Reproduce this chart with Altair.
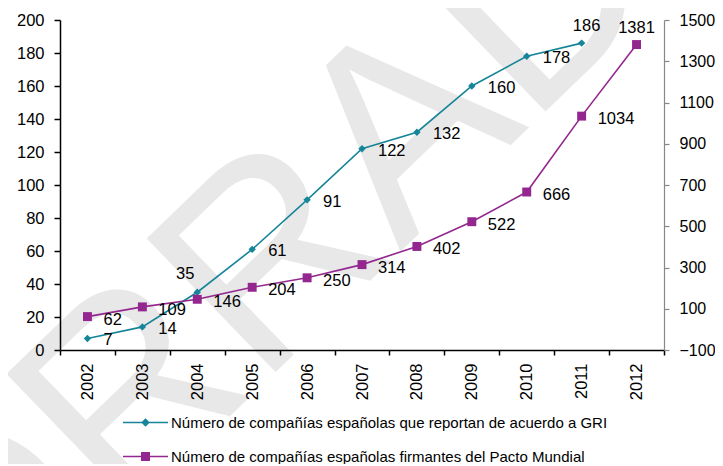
import altair as alt
import pandas as pd

years = ["2002", "2003", "2004", "2005", "2006", "2007", "2008", "2009", "2010", "2011", "2012"]
gri_values = [7, 14, 35, 61, 91, 122, 132, 160, 178, 186]
pacto_values = [62, 109, 146, 204, 250, 314, 402, 522, 666, 1034, 1381]
series = [
    "Número de compañías españolas que reportan de acuerdo a GRI",
    "Número de compañías españolas firmantes del Pacto Mundial",
]
left_ticks = list(range(0, 201, 20))
right_ticks = list(range(-100, 1501, 200))
watermark = ["BORRADOR"]

TEAL = "#168599"
PURPLE = "#93278f"
FONT = "Liberation Sans"

df_gri = pd.DataFrame({"year": years[:len(gri_values)], "value": gri_values, "serie": series[0]})
df_pacto = pd.DataFrame({"year": years, "value": pacto_values, "serie": series[1]})
df_all = pd.concat([df_gri, df_pacto], ignore_index=True)

x_enc = alt.X(
    "year:O",
    sort=years,
    scale=alt.Scale(type="band", paddingInner=0, paddingOuter=0),
    axis=alt.Axis(
        title=None, labelAngle=270, tickBand="extent", tickSize=5, labelPadding=8,
        labelFontSize=16.5, labelFont=FONT, labelColor="black", zindex=2,
        domainColor="black", tickColor="black", domainWidth=1.5, tickWidth=1.5,
    ),
)

y_left = alt.Y(
    "value:Q",
    scale=alt.Scale(domain=[0, 200], nice=False, zero=False),
    axis=alt.Axis(
        title=None, values=left_ticks, grid=False, orient="left", tickSize=6, labelPadding=10,
        labelFontSize=16.5, labelFont=FONT, labelColor="black", zindex=2, format="d",
        domainColor="black", tickColor="black", domainWidth=1.5, tickWidth=1.5,
    ),
)

y_right = alt.Y(
    "value:Q",
    scale=alt.Scale(domain=[-100, 1500], nice=False, zero=False),
    axis=alt.Axis(
        title=None, values=right_ticks, grid=False, orient="right", tickSize=5, labelPadding=10,
        labelFontSize=16, labelFont=FONT, labelColor="black", zindex=2, format="d",
        domainColor="#888888", tickColor="#888888", domainWidth=1.2, tickWidth=1.2,
    ),
)

label_style = dict(fontSize=16.5, font=FONT, color="black")

# GRI series
gri_base = alt.Chart(df_gri).encode(x=x_enc, y=y_left)
gri_line = gri_base.mark_line(color=TEAL, strokeWidth=1.6)
gri_pts = gri_base.mark_point(shape="diamond", filled=True, color=TEAL, size=55, opacity=1)
gri_lbl = gri_base.transform_filter(
    "datum.year != '2004' && datum.year != '2011'"
).mark_text(align="left", dx=16, dy=2, **label_style).encode(text="value:Q")
gri_lbl_35 = gri_base.transform_filter("datum.year == '2004'").mark_text(
    align="center", dx=-12, dy=-18, **label_style).encode(text="value:Q")
gri_lbl_186 = gri_base.transform_filter("datum.year == '2011'").mark_text(
    align="center", dx=5, dy=-17, **label_style).encode(text="value:Q")
gri_layer = alt.layer(gri_line, gri_pts, gri_lbl, gri_lbl_35, gri_lbl_186)

# Pacto Mundial series
pac_base = alt.Chart(df_pacto).encode(x=x_enc, y=y_right)
pac_line = pac_base.mark_line(color=PURPLE, strokeWidth=1.6)
pac_pts = pac_base.mark_point(shape="square", filled=True, color=PURPLE, size=80, opacity=1)
pac_lbl = pac_base.transform_filter("datum.year != '2012'").mark_text(
    align="left", dx=16, dy=3, **label_style).encode(text="value:Q")
pac_lbl_top = pac_base.transform_filter("datum.year == '2012'").mark_text(
    align="center", dx=0, dy=-17, **label_style).encode(text="value:Q")
pac_layer = alt.layer(pac_line, pac_pts, pac_lbl, pac_lbl_top)

# watermark
wm = alt.Chart(pd.DataFrame({"t": watermark})).mark_text(
    font=FONT, fontSize=270, color="#e8e8e8", angle=316, align="center", baseline="alphabetic"
).encode(text="t:N", x=alt.value(340), y=alt.value(232))

# legend (symbols: line with marker)
diamond_path = "M-2,-0.07L2,-0.07L2,0.07L-2,0.07Z M0,-0.38L0.38,0L0,0.38L-0.38,0Z"
square_path = "M-2,-0.07L2,-0.07L2,0.07L-2,0.07Z M-0.4,-0.4L0.4,-0.4L0.4,0.4L-0.4,0.4Z"
leg = alt.Legend(
    title=None, orient="none", legendX=74, legendY=391, direction="vertical",
    labelFontSize=15, labelFont=FONT, labelColor="black", labelLimit=1000,
    symbolSize=506, symbolStrokeWidth=0, symbolOpacity=1, labelOffset=14, rowPadding=14,
    padding=0,
)
legend_layer = alt.Chart(df_all).transform_filter("false").mark_point(filled=True, opacity=1).encode(
    color=alt.Color("serie:N", scale=alt.Scale(domain=series, range=[TEAL, PURPLE]), legend=leg),
    shape=alt.Shape("serie:N", scale=alt.Scale(domain=series, range=[diamond_path, square_path]), legend=leg),
)

chart = alt.layer(wm, gri_layer, pac_layer, legend_layer).resolve_scale(
    y="independent"
).properties(
    width=604, height=330,
    padding={"left": 52, "top": 12, "right": 51, "bottom": 114},
    autosize=alt.AutoSizeParams(type="none"),
    background="white",
).configure_view(stroke=None)

chart.save("out.html", embed_options={"renderer": "svg", "actions": False})
